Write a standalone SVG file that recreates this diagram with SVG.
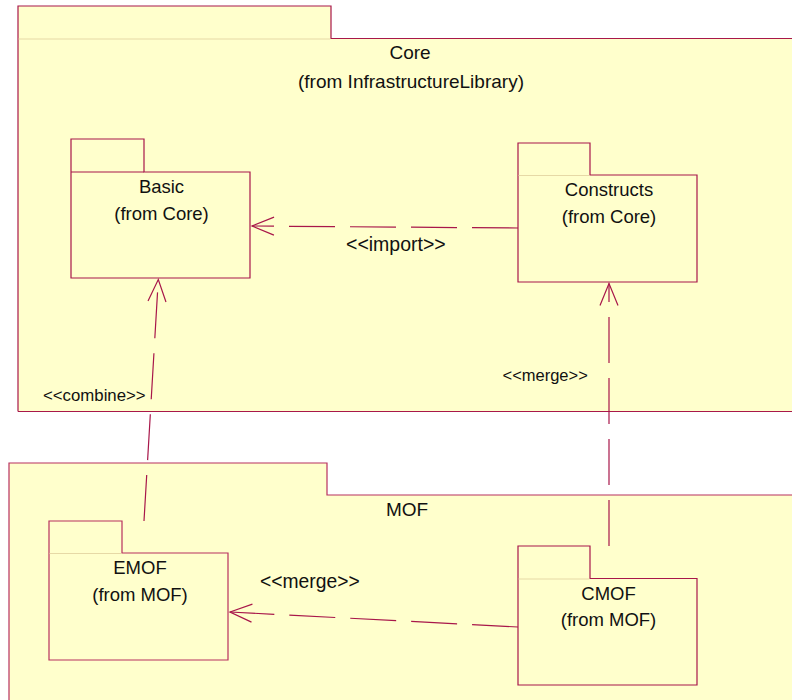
<svg xmlns="http://www.w3.org/2000/svg" width="792" height="700" viewBox="0 0 792 700">
  <style>
    .fill { fill: #FFFFCC; stroke: none; }
    .outline { fill: none; stroke: #A8174A; stroke-width: 1.2; }
    .outline2 { fill: none; stroke: #B8305E; stroke-width: 1.2; }
    .sep { fill: none; stroke: #E6D9A6; stroke-width: 1; }
    .sepd { fill: none; stroke: #A8174A; stroke-width: 1.2; }
    .t { font-family: "Liberation Sans", Arial, sans-serif; fill: #111; text-anchor: middle; }
    .big { font-size: 19px; }
    .node { font-size: 18.5px; }
    .lbl { font-family: "Liberation Sans", Arial, sans-serif; fill: #111; }
    .conn { fill: none; stroke: #A8174A; stroke-width: 1.2; stroke-dasharray: 46 15; }
  </style>
  <defs>
    <marker id="open" markerUnits="userSpaceOnUse" viewBox="-24 -12 26 24" markerWidth="26" markerHeight="24" refX="0" refY="0" orient="auto">
      <path d="M-22,-9 L0,0 L-22,9" fill="none" stroke="#A8174A" stroke-width="1.2" stroke-dasharray="none"/>
    </marker>
  </defs>
  <rect width="792" height="700" fill="#FFFFFF"/>

  <g id="Core">
    <path class="fill" d="M18,411.5 V6 H331 V38.5 H800 V411.5 Z"/>
    <path class="outline" d="M18,411.5 V6 H331 V38.5 H800 M18,411.5 H800"/>
    <line class="sep" x1="18.6" y1="39" x2="330.4" y2="39"/>
    <text class="t big" x="410" y="59">Core</text>
    <text class="t big" x="411" y="88">(from InfrastructureLibrary)</text>
  </g>

  <g id="MOF">
    <path class="fill" d="M9,710 V463 H327 V495 H800 V710 Z"/>
    <path class="outline2" d="M9,710 V463 H327 V495 H800"/>
    <text class="t big" x="407" y="516">MOF</text>
  </g>

  <g id="Basic">
    <path class="fill" d="M71,278 V139 H144 V172 H250 V278 Z"/>
    <path class="outline" d="M71,278 V139 H144 V172 H250 V278 Z"/>
    <line class="sepd" x1="71" y1="172" x2="144" y2="172"/>
    <text class="t node" x="161.5" y="192.5">Basic</text>
    <text class="t node" x="161.5" y="219.5">(from Core)</text>
  </g>

  <g id="Constructs">
    <path class="fill" d="M518,282 V143 H590 V175 H697 V282 Z"/>
    <path class="outline" d="M518,282 V143 H590 V175 H697 V282 Z"/>
    <line class="sep" x1="518.6" y1="175.5" x2="589.4" y2="175.5"/>
    <text class="t node" x="609" y="195.5">Constructs</text>
    <text class="t node" x="609" y="223">(from Core)</text>
  </g>

  <g id="EMOF">
    <path class="fill" d="M49,660 V521 H122 V553 H228 V660 Z"/>
    <path class="outline2" d="M49,660 V521 H122 V553 H228 V660 Z"/>
    <line class="sep" x1="49.6" y1="553.5" x2="121.4" y2="553.5"/>
    <text class="t node" x="140" y="574">EMOF</text>
    <text class="t node" x="140" y="601">(from MOF)</text>
  </g>

  <g id="CMOF">
    <path class="fill" d="M518,685 V546 H590 V578.5 H697 V685 Z"/>
    <path class="outline" d="M518,685 V546 H590 V578.5 H697 V685 Z"/>
    <line class="sep" x1="518.6" y1="579" x2="589.4" y2="579"/>
    <text class="t node" x="608.5" y="600">CMOF</text>
    <text class="t node" x="608.5" y="626">(from MOF)</text>
  </g>

  <g id="connectors">
    <path class="conn" d="M518,228 L252,226" marker-end="url(#open)"/>
    <path class="conn" d="M144,521 L158.3,279.5" marker-end="url(#open)"/>
    <path class="conn" d="M609,546 L609,283.5" marker-end="url(#open)"/>
    <path class="conn" d="M518,627 L230,612" marker-end="url(#open)"/>
    <text class="lbl" x="346" y="251" font-size="19.5px">&lt;&lt;import&gt;&gt;</text>
    <text class="lbl" x="43" y="401" font-size="16.8px">&lt;&lt;combine&gt;&gt;</text>
    <text class="lbl" x="502.5" y="381" font-size="16.5px">&lt;&lt;merge&gt;&gt;</text>
    <text class="lbl" x="260" y="588" font-size="19.3px">&lt;&lt;merge&gt;&gt;</text>
  </g>
</svg>
